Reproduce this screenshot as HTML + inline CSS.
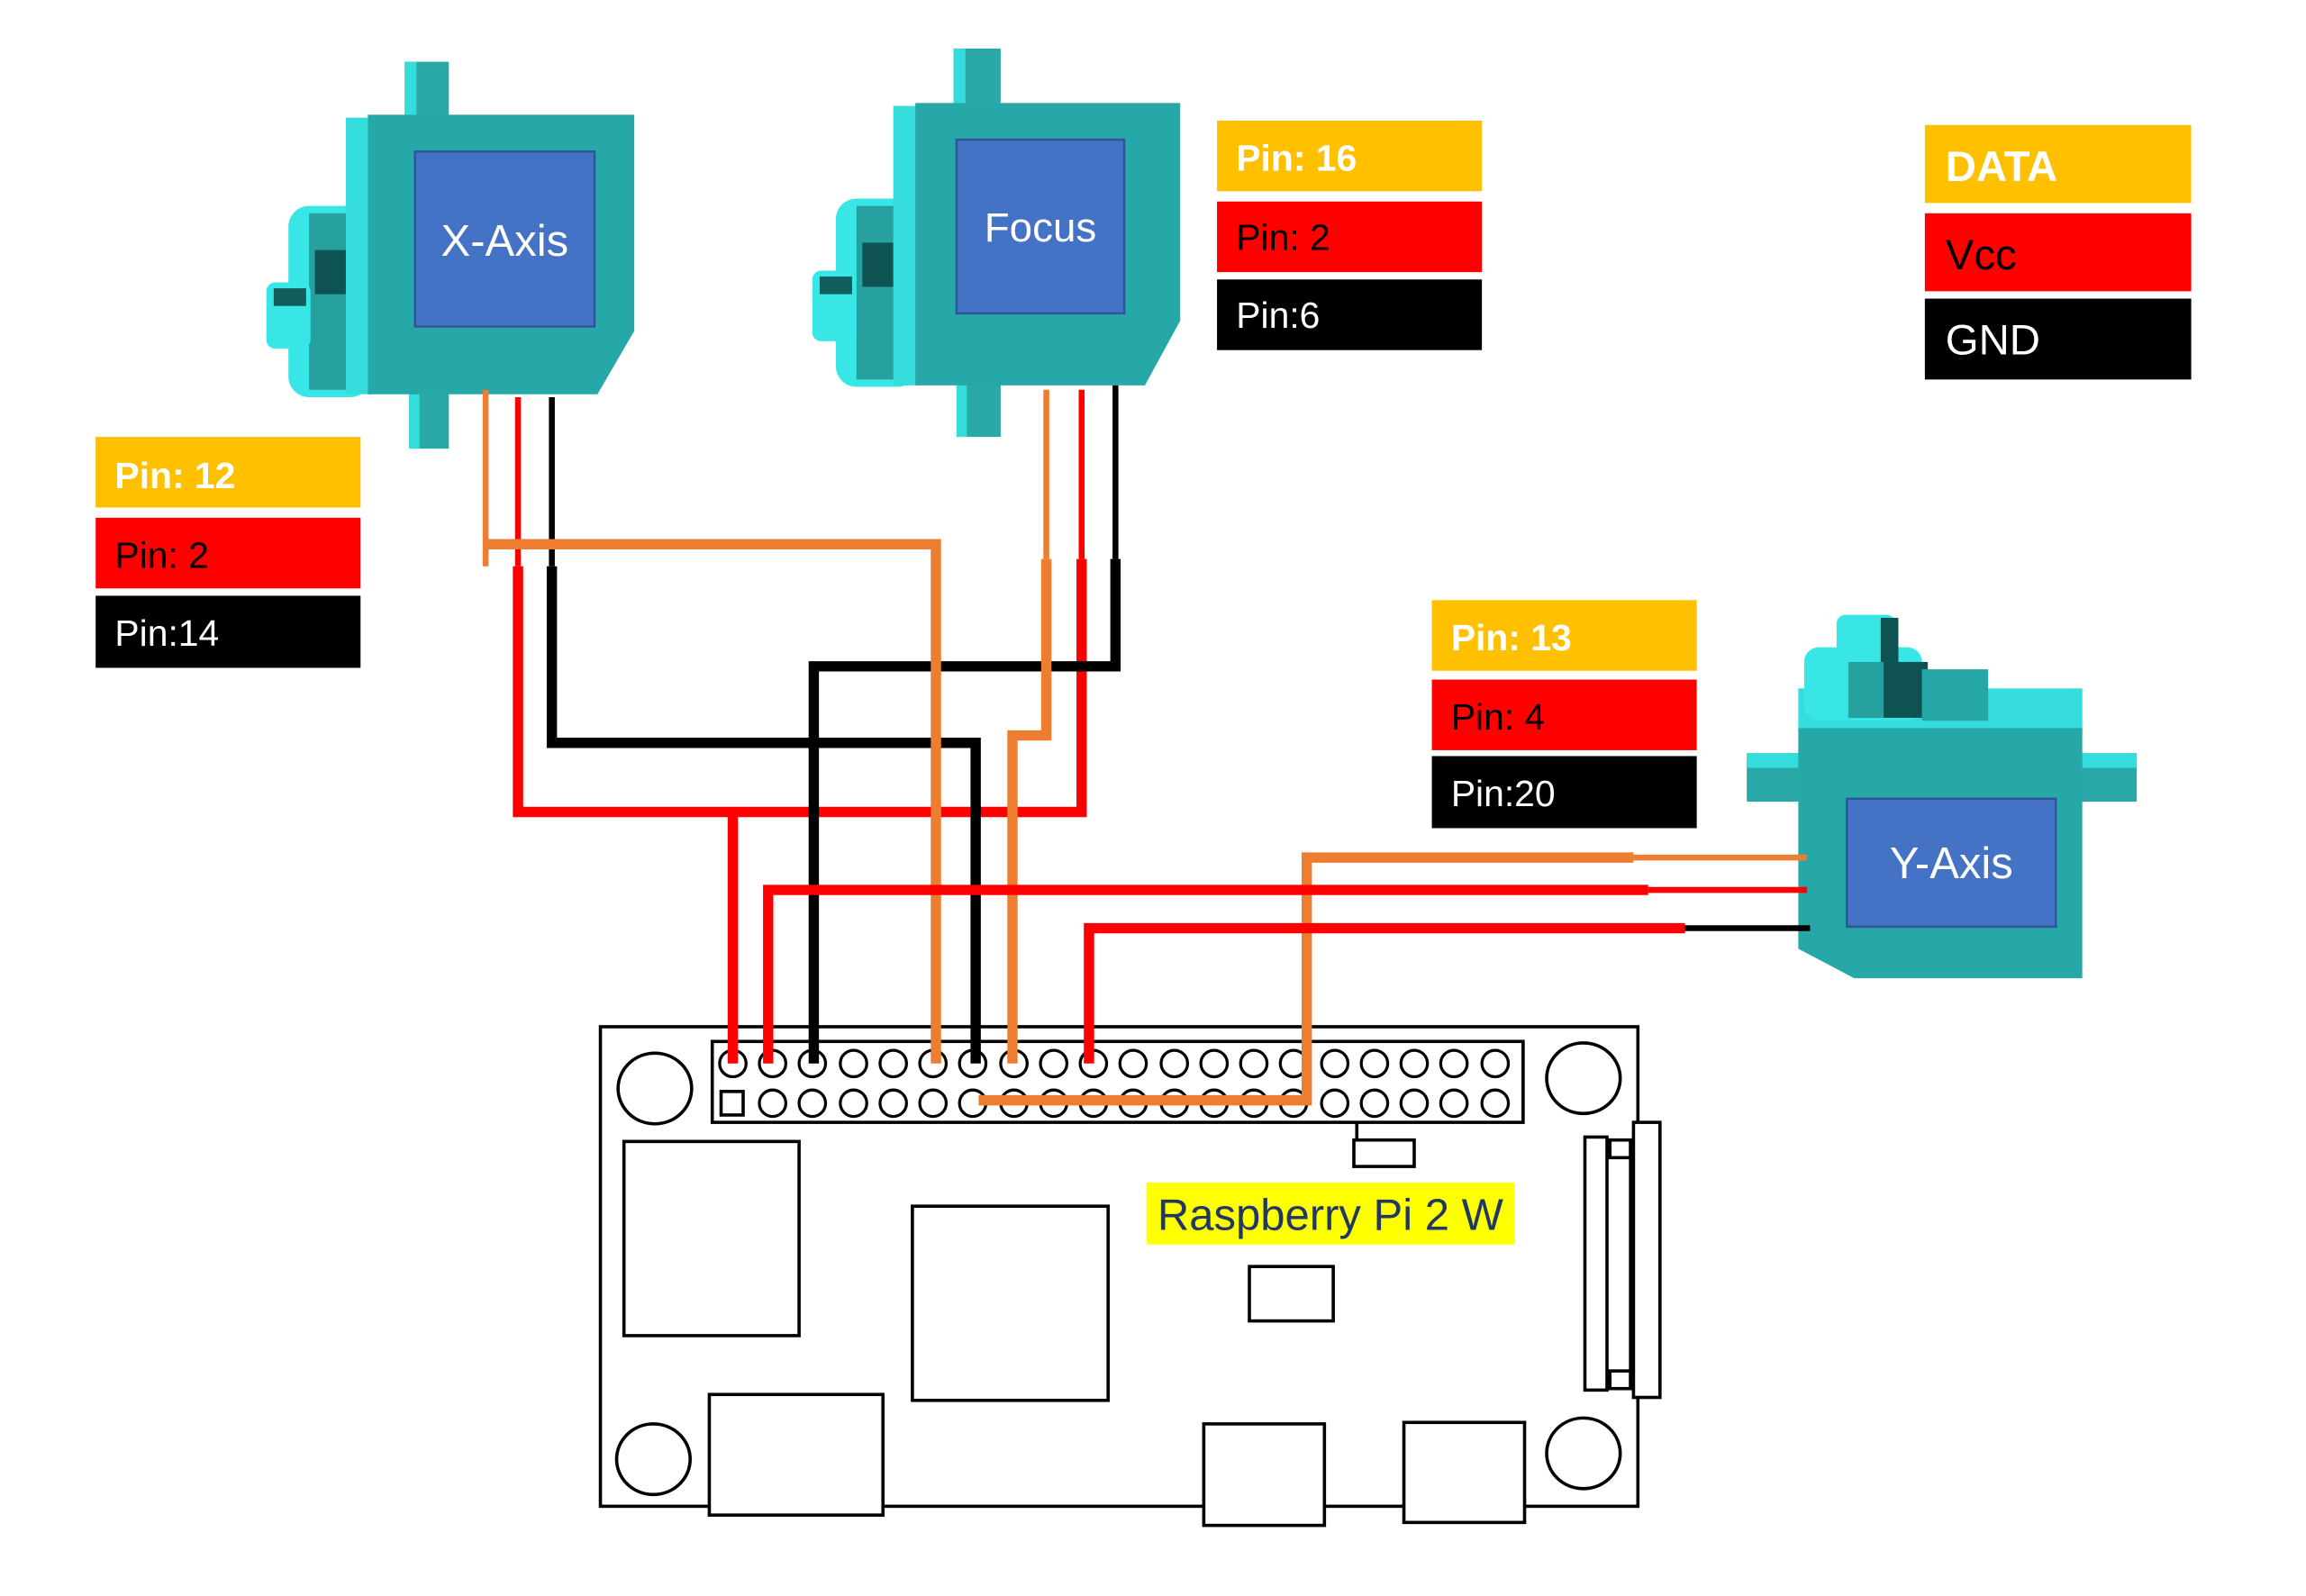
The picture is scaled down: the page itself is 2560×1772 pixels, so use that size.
<!DOCTYPE html>
<html><head><meta charset="utf-8"><style>
html,body{margin:0;padding:0;background:#fff}
svg{display:block}
text{font-family:"Liberation Sans",sans-serif}
</style></head><body>
<svg width="2560" height="1772" viewBox="0 0 1567 1085" preserveAspectRatio="none" xmlns="http://www.w3.org/2000/svg">
<rect width="1567" height="1085" fill="#fff"/>
<!-- X-Axis servo -->
<g>
<rect x="275" y="42" width="30" height="40" fill="#2aa8a8"/><rect x="275" y="42" width="8" height="40" fill="#35dcdc"/>
<rect x="278" y="265" width="27" height="40" fill="#2aa8a8"/><rect x="278" y="265" width="7" height="40" fill="#35dcdc"/>
<rect x="196" y="140" width="56" height="130" rx="14" fill="#38e6e6"/>
<rect x="210" y="145" width="42" height="120" fill="#27a0a0"/>
<rect x="214" y="170" width="38" height="30" fill="#0e5252"/>
<rect x="181" y="192" width="30" height="45" rx="6" fill="#38e6e6"/><rect x="186" y="196" width="22" height="12" fill="#135c5c"/>
<rect x="235" y="80" width="18" height="188" fill="#35dcdc"/>
<polygon points="250,78 431,78 431,225 406,268 250,268" fill="#27a8a8"/>
<rect x="282" y="103" width="122" height="119" fill="#4472c4" stroke="#2f5597" stroke-width="1.5"/>
<text x="343" y="174" font-size="30" fill="#fff" text-anchor="middle">X-Axis</text>
</g>
<!-- Focus servo -->
<g>
<rect x="648" y="33" width="32" height="40" fill="#2aa8a8"/><rect x="648" y="33" width="8" height="40" fill="#35dcdc"/>
<rect x="650" y="260" width="30" height="37" fill="#2aa8a8"/><rect x="650" y="260" width="7" height="37" fill="#35dcdc"/>
<rect x="568" y="135" width="56" height="128" rx="14" fill="#38e6e6"/>
<rect x="582" y="140" width="42" height="118" fill="#27a0a0"/>
<rect x="586" y="165" width="38" height="30" fill="#0e5252"/>
<rect x="552" y="184" width="30" height="48" rx="6" fill="#38e6e6"/><rect x="557" y="188" width="22" height="12" fill="#135c5c"/>
<rect x="607" y="72" width="18" height="190" fill="#35dcdc"/>
<polygon points="622,70 802,70 802,218 778,262 622,262" fill="#27a8a8"/>
<rect x="650" y="95" width="114" height="118" fill="#4472c4" stroke="#2f5597" stroke-width="1.5"/>
<text x="707" y="164" font-size="28" fill="#fff" text-anchor="middle">Focus</text>
</g>
<!-- Y-Axis servo -->
<g>
<rect x="1187" y="512" width="265" height="33" fill="#2aa8a8"/>
<rect x="1187" y="512" width="38" height="10" fill="#35dcdc"/><rect x="1413" y="512" width="39" height="10" fill="#35dcdc"/>
<rect x="1222" y="468" width="193" height="30" fill="#35dcdc"/>
<rect x="1226" y="440" width="80" height="50" rx="10" fill="#38e6e6"/>
<rect x="1256" y="450" width="50" height="38" fill="#27a0a0"/><rect x="1280" y="450" width="30" height="38" fill="#0e5252"/>
<rect x="1306" y="455" width="45" height="35" fill="#27a8a8"/>
<rect x="1248" y="418" width="40" height="32" rx="6" fill="#38e6e6"/><rect x="1278" y="420" width="12" height="30" fill="#0e5252"/>
<polygon points="1222,495 1415,495 1415,665 1260,665 1222,645" fill="#27a8a8"/>
<rect x="1255" y="543" width="142" height="87" fill="#4472c4" stroke="#2f5597" stroke-width="1.5"/>
<text x="1326" y="597" font-size="30" fill="#fff" text-anchor="middle">Y-Axis</text>
</g>
<!-- labels -->
<g font-weight="bold" font-size="25">
<rect x="65" y="297" width="180" height="48" fill="#ffc000"/><text x="78" y="332" fill="#fff">Pin: 12</text>
<rect x="65" y="352" width="180" height="48" fill="#ff0000"/><text x="78" y="386" fill="#000" font-weight="normal">Pin: 2</text>
<rect x="65" y="405" width="180" height="49" fill="#000"/><text x="78" y="439" fill="#fff" font-weight="normal">Pin:14</text>
<rect x="827" y="82" width="180" height="48" fill="#ffc000"/><text x="840" y="116" fill="#fff">Pin: 16</text>
<rect x="827" y="137" width="180" height="48" fill="#ff0000"/><text x="840" y="170" fill="#000" font-weight="normal">Pin: 2</text>
<rect x="827" y="190" width="180" height="48" fill="#000"/><text x="840" y="223" fill="#fff" font-weight="normal">Pin:6</text>
<rect x="973" y="408" width="180" height="48" fill="#ffc000"/><text x="986" y="442" fill="#fff">Pin: 13</text>
<rect x="973" y="462" width="180" height="48" fill="#ff0000"/><text x="986" y="496" fill="#000" font-weight="normal">Pin: 4</text>
<rect x="973" y="514" width="180" height="49" fill="#000"/><text x="986" y="548" fill="#fff" font-weight="normal">Pin:20</text>
<rect x="1308" y="85" width="181" height="53" fill="#ffc000"/><text x="1322" y="123" fill="#fff" font-size="29">DATA</text>
<rect x="1308" y="145" width="181" height="53" fill="#ff0000"/><text x="1322" y="183" fill="#000" font-size="29" font-weight="normal">Vcc</text>
<rect x="1308" y="203" width="181" height="55" fill="#000"/><text x="1322" y="241" fill="#fff" font-size="29" font-weight="normal">GND</text>
</g>
<!-- board -->
<g fill="none" stroke="#000" stroke-width="2.2">
<rect x="408" y="698" width="705" height="326" fill="#fff"/>
<rect x="484" y="708" width="551" height="55"/>
<ellipse cx="445" cy="740" rx="25" ry="24"/><ellipse cx="1076" cy="733" rx="25" ry="24"/>
<ellipse cx="444" cy="992" rx="25" ry="24"/><ellipse cx="1076" cy="988" rx="25" ry="24"/>
<rect x="424" y="776" width="119" height="132"/>
<rect x="620" y="820" width="133" height="132"/>
<rect x="482" y="948" width="118" height="82" fill="#fff"/>
<rect x="818" y="968" width="82" height="69" fill="#fff"/>
<rect x="954" y="967" width="82" height="68" fill="#fff"/>
<rect x="849" y="861" width="57" height="37"/>
<rect x="920" y="775" width="41" height="18"/><line x1="922" y1="763" x2="922" y2="775"/>
<rect x="1077" y="773" width="15" height="172"/>
<rect x="1110" y="763" width="18" height="187" fill="#fff"/>
<rect x="1094" y="775" width="14" height="12"/><rect x="1094" y="932" width="14" height="12"/>
<line x1="1108" y1="775" x2="1108" y2="945"/>
<rect x="490" y="742" width="15" height="16"/>
</g>
<g fill="#fff" stroke="#000" stroke-width="2">
<circle cx="498" cy="723" r="9"/><circle cx="525" cy="723" r="9"/><circle cx="552" cy="723" r="9"/><circle cx="580" cy="723" r="9"/><circle cx="607" cy="723" r="9"/><circle cx="634" cy="723" r="9"/><circle cx="661" cy="723" r="9"/><circle cx="689" cy="723" r="9"/><circle cx="716" cy="723" r="9"/><circle cx="743" cy="723" r="9"/><circle cx="770" cy="723" r="9"/><circle cx="798" cy="723" r="9"/><circle cx="825" cy="723" r="9"/><circle cx="852" cy="723" r="9"/><circle cx="879" cy="723" r="9"/><circle cx="907" cy="723" r="9"/><circle cx="934" cy="723" r="9"/><circle cx="961" cy="723" r="9"/><circle cx="988" cy="723" r="9"/><circle cx="1016" cy="723" r="9"/>
<circle cx="525" cy="750" r="9"/><circle cx="552" cy="750" r="9"/><circle cx="580" cy="750" r="9"/><circle cx="607" cy="750" r="9"/><circle cx="634" cy="750" r="9"/><circle cx="661" cy="750" r="9"/><circle cx="689" cy="750" r="9"/><circle cx="716" cy="750" r="9"/><circle cx="743" cy="750" r="9"/><circle cx="770" cy="750" r="9"/><circle cx="798" cy="750" r="9"/><circle cx="825" cy="750" r="9"/><circle cx="852" cy="750" r="9"/><circle cx="879" cy="750" r="9"/><circle cx="907" cy="750" r="9"/><circle cx="934" cy="750" r="9"/><circle cx="961" cy="750" r="9"/><circle cx="988" cy="750" r="9"/><circle cx="1016" cy="750" r="9"/>
</g>
<rect x="779" y="804" width="250" height="42" fill="#ffff00"/>
<text x="904" y="836" font-size="30" fill="#1f3864" text-anchor="middle">Raspberry Pi 2 W</text>
<!-- wires -->
<g fill="none" stroke-linejoin="miter">
<polyline points="330,265 330,385" stroke="#ed7d31" stroke-width="4"/>
<polyline points="352,270 352,385" stroke="#ff0000" stroke-width="4"/>
<polyline points="375,270 375,385" stroke="#000" stroke-width="4"/>
<polyline points="711,265 711,380" stroke="#ed7d31" stroke-width="4"/>
<polyline points="735,265 735,380" stroke="#ff0000" stroke-width="4"/>
<polyline points="758,262 758,380" stroke="#000" stroke-width="4"/>
<polyline points="352,385 352,552 735,552 735,380" stroke="#ff0000" stroke-width="7"/>
<polyline points="498,552 498,723" stroke="#ff0000" stroke-width="7"/>
<polyline points="375,385 375,505 663,505 663,723" stroke="#000" stroke-width="7"/>
<polyline points="758,380 758,453 553,453 553,723" stroke="#000" stroke-width="7"/>
<polyline points="330,370 636,370 636,723" stroke="#ed7d31" stroke-width="7"/>
<polyline points="711,380 711,500 688,500 688,723" stroke="#ed7d31" stroke-width="7"/>
<polyline points="1110,583 888,583 888,748 665,748" stroke="#ed7d31" stroke-width="7"/>
<polyline points="1110,583 1228,583" stroke="#ed7d31" stroke-width="4"/>
<polyline points="1120,605 522,605 522,723" stroke="#ff0000" stroke-width="7"/>
<polyline points="1120,605 1228,605" stroke="#ff0000" stroke-width="4"/>
<polyline points="1145,631 740,631 740,723" stroke="#ff0000" stroke-width="7"/>
<polyline points="1145,631 1230,631" stroke="#000" stroke-width="4"/>
</g>
</svg>
</body></html>
